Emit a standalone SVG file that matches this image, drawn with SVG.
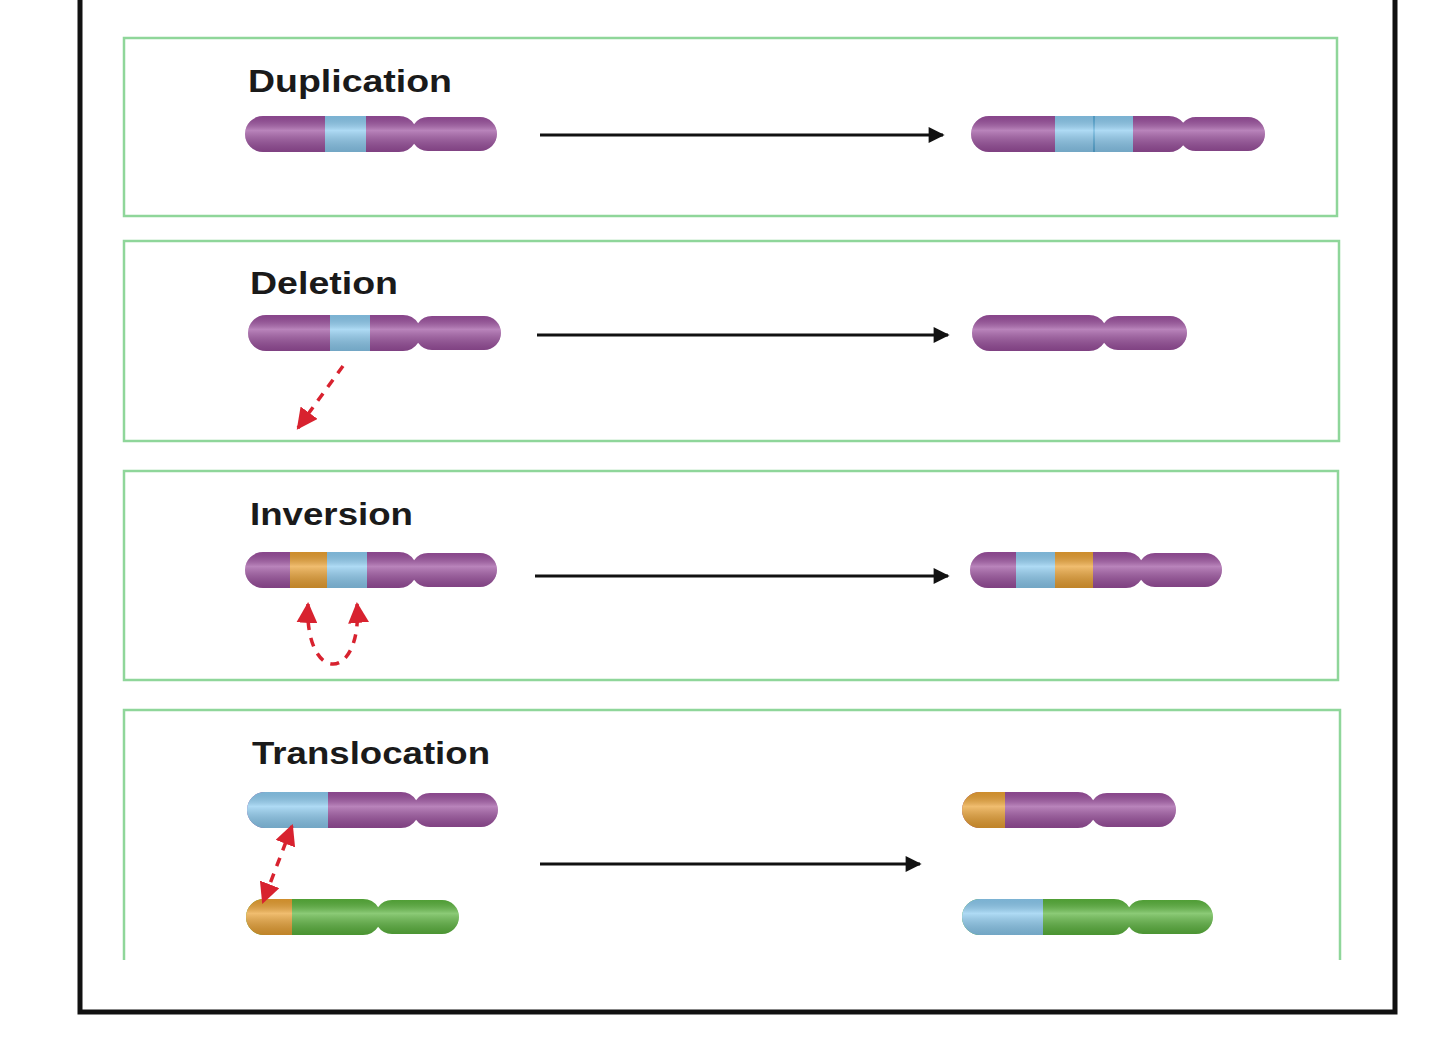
<svg xmlns="http://www.w3.org/2000/svg" width="1440" height="1038" viewBox="0 0 1440 1038">
<style>
.panel{fill:#fff;stroke:#8fd69a;stroke-width:2.5}
.lbl{font-family:"Liberation Sans",Arial,sans-serif;font-weight:bold;font-size:31px;fill:#1a1a1a}
.arr{stroke:#111;stroke-width:3;fill:none}
.red{stroke:#d8222f;stroke-width:3.5;fill:none;stroke-dasharray:9 8}
.p{fill:#9b4f9e}.b{fill:#8ccbf0}.o{fill:#eaa132}.g{fill:#5ab43c}
.hl{fill:url(#hl)}
</style>
<defs>
<linearGradient id="hl" x1="0" y1="0" x2="0" y2="1">
<stop offset="0" stop-color="#000" stop-opacity="0.12"/>
<stop offset="0.4" stop-color="#fff" stop-opacity="0.3"/>
<stop offset="1" stop-color="#000" stop-opacity="0.18"/>
</linearGradient>
<marker id="ah" viewBox="0 0 10 10" refX="9" refY="5" markerWidth="24" markerHeight="16" markerUnits="userSpaceOnUse" orient="auto"><path d="M0,0L10,5L0,10z" fill="#111"/></marker>
<marker id="rh" viewBox="0 0 10 10" refX="9" refY="5" markerWidth="6" markerHeight="6" orient="auto"><path d="M0,0L10,5L0,10z" fill="#d8222f"/></marker>
<marker id="rs" viewBox="0 0 10 10" refX="1" refY="5" markerWidth="6" markerHeight="6" orient="auto"><path d="M10,0L0,5L10,10z" fill="#d8222f"/></marker>
<clipPath id="c1"><rect x="245" y="116" width="172" height="36" rx="18"/><rect x="411" y="117" width="86" height="34" rx="17"/></clipPath>
<clipPath id="c2"><rect x="971" y="116" width="216" height="36" rx="18"/><rect x="1179" y="117" width="86" height="34" rx="17"/></clipPath>
<clipPath id="c3"><rect x="248" y="315" width="173" height="36" rx="18"/><rect x="415" y="316" width="86" height="34" rx="17"/></clipPath>
<clipPath id="c4"><rect x="972" y="315" width="135" height="36" rx="18"/><rect x="1101" y="316" width="86" height="34" rx="17"/></clipPath>
<clipPath id="c5"><rect x="245" y="552" width="172" height="36" rx="18"/><rect x="411" y="553" width="86" height="34" rx="17"/></clipPath>
<clipPath id="c6"><rect x="970" y="552" width="174" height="36" rx="18"/><rect x="1138" y="553" width="84" height="34" rx="17"/></clipPath>
<clipPath id="c7"><rect x="247" y="792" width="172" height="36" rx="18"/><rect x="413" y="793" width="85" height="34" rx="17"/></clipPath>
<clipPath id="c8"><rect x="246" y="899" width="135" height="36" rx="18"/><rect x="375" y="900" width="84" height="34" rx="17"/></clipPath>
<clipPath id="c9"><rect x="962" y="792" width="134" height="36" rx="18"/><rect x="1090" y="793" width="86" height="34" rx="17"/></clipPath>
<clipPath id="c10"><rect x="962" y="899" width="170" height="36" rx="18"/><rect x="1126" y="900" width="87" height="34" rx="17"/></clipPath>
</defs>
<rect width="1440" height="1038" fill="#fff"/>
<path d="M80,0V1012H1395V0" fill="none" stroke="#111" stroke-width="5"/>
<g id="panel-duplication">
<rect class="panel" x="124" y="38" width="1213" height="178"/>
<text class="lbl" x="248" y="92" textLength="204" lengthAdjust="spacingAndGlyphs">Duplication</text>
<g clip-path="url(#c1)"><rect class="p" x="240" y="110" width="260" height="50"/><rect class="b" x="325" y="110" width="41" height="50"/><rect class="hl" x="240" y="116" width="260" height="36"/></g>
<g clip-path="url(#c2)"><rect class="p" x="965" y="110" width="305" height="50"/><rect class="b" x="1055" y="110" width="78" height="50"/><rect x="1093" y="110" width="2" height="50" fill="#5aaedc"/><rect class="hl" x="965" y="116" width="305" height="36"/></g>
</g>
<g id="panel-deletion">
<rect class="panel" x="124" y="241" width="1215" height="200"/>
<text class="lbl" x="250" y="294" textLength="148" lengthAdjust="spacingAndGlyphs">Deletion</text>
<g clip-path="url(#c3)"><rect class="p" x="240" y="310" width="265" height="50"/><rect class="b" x="330" y="310" width="40" height="50"/><rect class="hl" x="240" y="315" width="265" height="36"/></g>
<g clip-path="url(#c4)"><rect class="p" x="965" y="310" width="225" height="50"/><rect class="hl" x="965" y="315" width="225" height="36"/></g>
</g>
<g id="panel-inversion">
<rect class="panel" x="124" y="471" width="1214" height="209"/>
<text class="lbl" x="250" y="525" textLength="163" lengthAdjust="spacingAndGlyphs">Inversion</text>
<g clip-path="url(#c5)"><rect class="p" x="240" y="545" width="260" height="50"/><rect class="o" x="290" y="545" width="37" height="50"/><rect class="b" x="327" y="545" width="40" height="50"/><rect class="hl" x="240" y="552" width="260" height="36"/></g>
<g clip-path="url(#c6)"><rect class="p" x="965" y="545" width="260" height="50"/><rect class="b" x="1016" y="545" width="39" height="50"/><rect class="o" x="1055" y="545" width="38" height="50"/><rect class="hl" x="965" y="552" width="260" height="36"/></g>
</g>
<g id="panel-translocation">
<path class="panel" d="M124,960V710H1340V960"/>
<text class="lbl" x="252" y="764" textLength="238" lengthAdjust="spacingAndGlyphs">Translocation</text>
<g clip-path="url(#c7)"><rect class="p" x="240" y="785" width="262" height="50"/><rect class="b" x="240" y="785" width="88" height="50"/><rect class="hl" x="240" y="792" width="262" height="36"/></g>
<g clip-path="url(#c8)"><rect class="g" x="240" y="893" width="222" height="50"/><rect class="o" x="240" y="893" width="52" height="50"/><rect class="hl" x="240" y="899" width="222" height="36"/></g>
<g clip-path="url(#c9)"><rect class="p" x="958" y="785" width="222" height="50"/><rect class="o" x="958" y="785" width="47" height="50"/><rect class="hl" x="958" y="792" width="222" height="36"/></g>
<g clip-path="url(#c10)"><rect class="g" x="958" y="893" width="258" height="50"/><rect class="b" x="958" y="893" width="85" height="50"/><rect class="hl" x="958" y="899" width="258" height="36"/></g>
</g>
<g id="connectors">
<line class="arr" x1="540" y1="135" x2="943" y2="135" marker-end="url(#ah)"/>
<line class="arr" x1="537" y1="335" x2="948" y2="335" marker-end="url(#ah)"/>
<line class="arr" x1="535" y1="576" x2="948" y2="576" marker-end="url(#ah)"/>
<line class="arr" x1="540" y1="864" x2="920" y2="864" marker-end="url(#ah)"/>
<path class="red" d="M343,366L298,428" marker-end="url(#rh)"/>
<path class="red" d="M308,604C306,640 318,664 333,664C348,664 360,640 357,604" marker-start="url(#rs)" marker-end="url(#rh)"/>
<path class="red" d="M292,826L263,902" marker-start="url(#rs)" marker-end="url(#rh)"/>
</g>
</svg>
